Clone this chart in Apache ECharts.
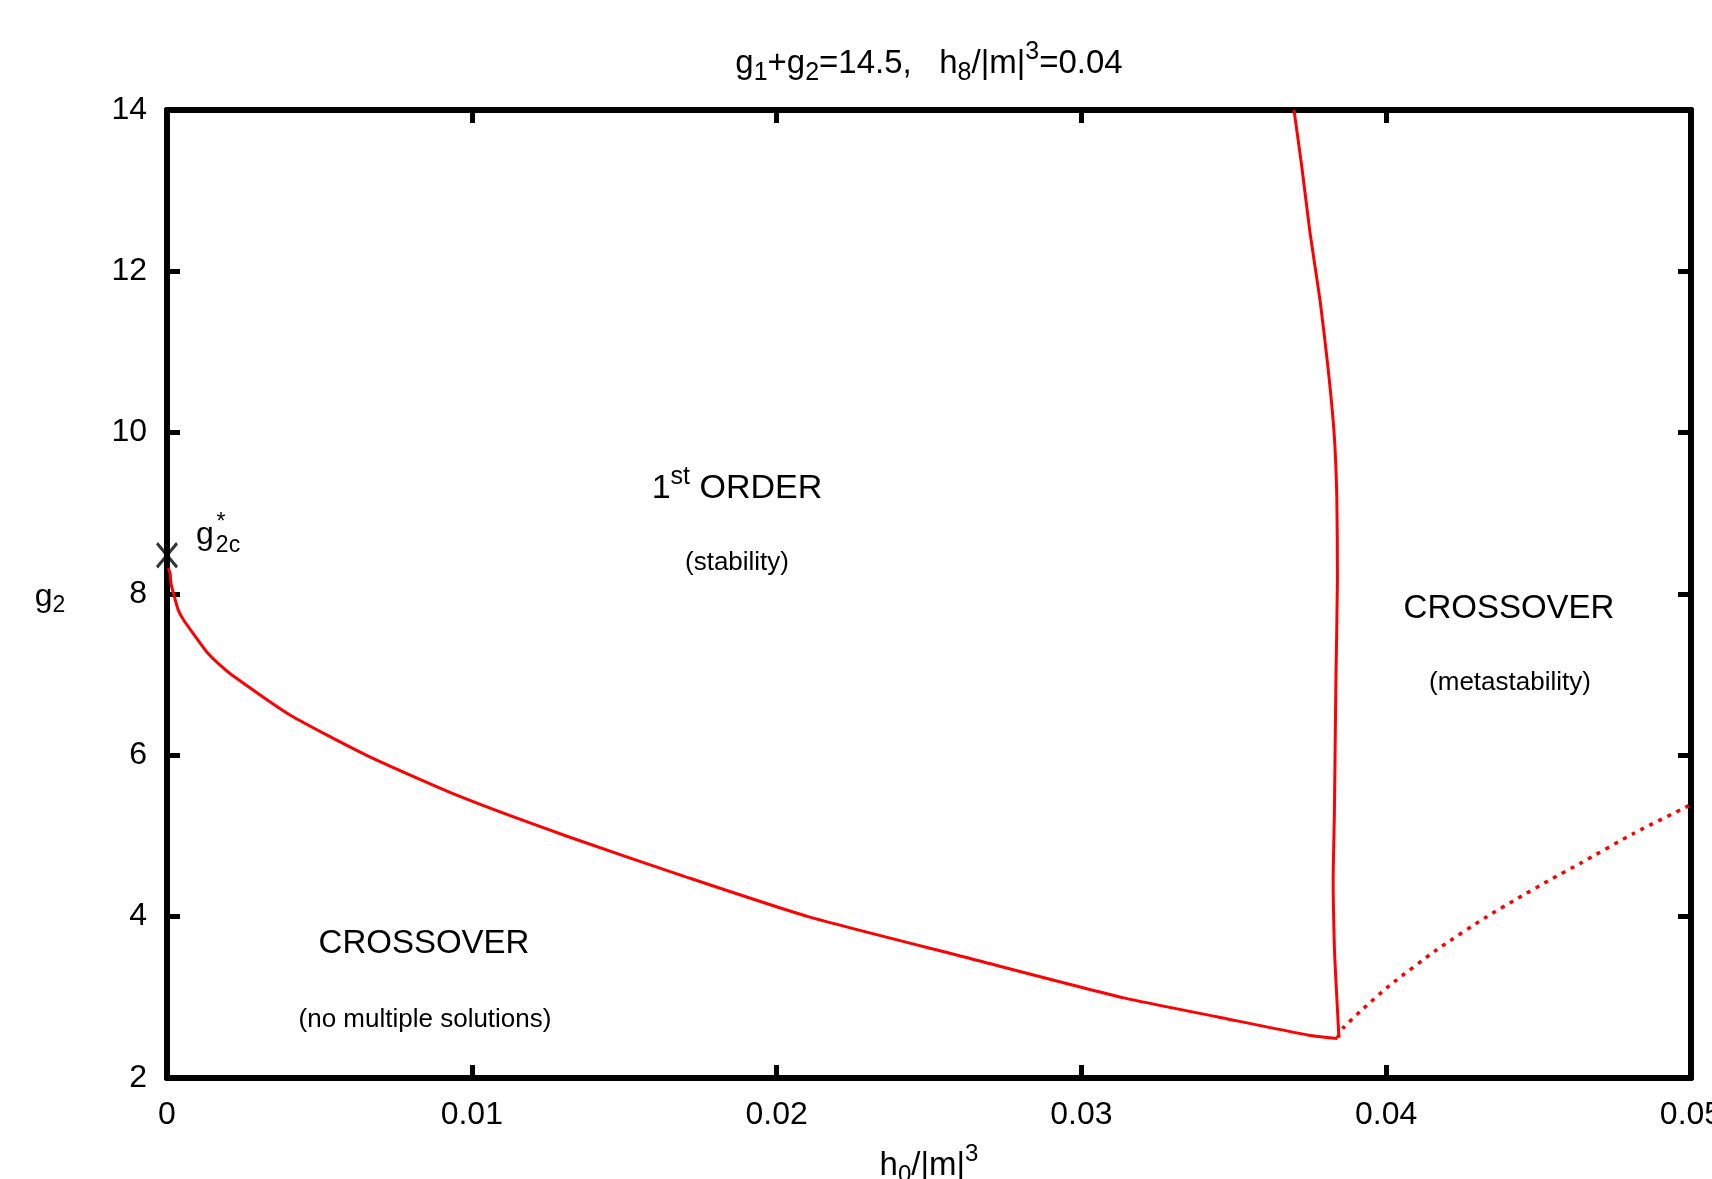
<!DOCTYPE html>
<html>
<head>
<meta charset="utf-8">
<title>g2 vs h0/|m|^3</title>
<script src="https://cdn.jsdelivr.net/npm/echarts@6/dist/echarts.min.js"></script>
<style>
  html, body { margin: 0; padding: 0; background: #fff; }
  #chart { width: 1712px; height: 1179px; }
</style>
</head>
<body>
<div id="chart"></div>
<script>
// 坐标轴范围
var xMin = 0, xMax = 0.05, xStep = 0.01
var yMin = 2, yMax = 14, yStep = 2

// 下方的一阶相变边界
var lowX = [0.00004, 0.0001, 0.00013, 0.00021, 0.00037, 0.00054, 0.00086, 0.0013, 0.00168, 0.00212, 0.00404, 0.00655, 0.00961, 0.0131, 0.01697, 0.02104, 0.02616, 0.03143, 0.03444, 0.03746, 0.0384]
var lowY = [8.32, 8.26, 8.13, 8.01, 7.8, 7.68, 7.51, 7.285, 7.14, 7.0, 6.5, 6.0, 5.49, 5.0, 4.5, 4.0, 3.5, 2.99, 2.76, 2.53, 2.49]

// 右侧近似竖直的边界
var spinX = [0.036975, 0.03723, 0.0375, 0.03783, 0.03809, 0.03829, 0.03838, 0.0384, 0.03835, 0.0383, 0.03826, 0.0383, 0.03835, 0.03845]
var spinY = [14, 13.3, 12.48, 11.64, 10.81, 10.0, 9.2, 8.2, 6.93, 5.28, 4.45, 3.62, 3.21, 2.5]

// 虚线（亚稳）
var dotX = [0.0384, 0.03859, 0.03925, 0.04012, 0.04166, 0.0433, 0.04433, 0.04537, 0.04636, 0.04811, 0.05]
var dotY = [2.5, 2.62, 2.86, 3.15, 3.59, 4.0, 4.23, 4.455, 4.66, 5.03, 5.39]

// 临界点 g2c*
var critX = [0]
var critY = [8.48]

var FONT = '"Liberation Sans", Arial, Helvetica, sans-serif'

function zip(xs, ys) {
  return xs.map(function (x, i) { return [x, ys[i]] })
}

// 上下标用的 rich 样式
function richStyle(size, subSize) {
  return {
    n: { fontSize: size, fontFamily: FONT, color: '#000' },
    sb: { fontSize: subSize, fontFamily: FONT, color: '#000', padding: [Math.round(size * 0.55), 0, 0, 0] },
    sp: { fontSize: subSize, fontFamily: FONT, color: '#000', padding: [0, 0, Math.round(size * 0.7), 0] }
  }
}

function label(x, y, text, size, subSize) {
  return {
    type: 'text',
    x: x,
    y: y,
    style: {
      text: text,
      rich: richStyle(size, subSize || Math.round(size * 0.72)),
      align: 'center',
      verticalAlign: 'middle'
    }
  }
}

function plain(x, y, text, size) {
  return {
    type: 'text',
    x: x,
    y: y,
    style: {
      text: text,
      fontSize: size,
      fontFamily: FONT,
      fill: '#000',
      align: 'center',
      verticalAlign: 'middle'
    }
  }
}

function axisCommon(pos, showLabel, margin) {
  return {
    type: 'value',
    position: pos,
    axisLine: { show: true, onZero: false, lineStyle: { color: '#000', width: 6 } },
    axisTick: { show: true, inside: true, length: 13, lineStyle: { color: '#000', width: 5 } },
    axisLabel: { show: showLabel, color: '#000', fontSize: 32, fontFamily: FONT, margin: margin },
    splitLine: { show: false }
  }
}

function initChart() {
  var chart = echarts.init(document.getElementById('chart'))

  var xBottom = axisCommon('bottom', true, 21)
  var xTop = axisCommon('top', false, 8)
  var yLeft = axisCommon('left', true, 20)
  var yRight = axisCommon('right', false, 8)
  ;[xBottom, xTop].forEach(function (a) { a.min = xMin; a.max = xMax; a.interval = xStep })
  ;[yLeft, yRight].forEach(function (a) { a.min = yMin; a.max = yMax; a.interval = yStep })

  var option = {
    animation: false,
    backgroundColor: '#fff',
    grid: { left: 167, right: 21, top: 110, bottom: 101, outerBoundsMode: 'none' },
    xAxis: [xBottom, xTop],
    yAxis: [yLeft, yRight],
    graphic: [
      label(929, 64, '{n|g}{sb|1}{n|+g}{sb|2}{n|=14.5,   h}{sb|8}{n|/|m|}{sp|3}{n|=0.04}', 33, 25),
      label(929, 1166, '{n|h}{sb|0}{n|/|m|}{sp|3}', 33, 24),
      label(50, 597, '{n|g}{sb|2}', 32, 23),
      label(737, 489, '{n|1}{sp|st}{n| ORDER}', 34, 25),
      plain(737, 563, '(stability)', 26),
      plain(1509, 609, 'CROSSOVER', 33),
      plain(1510, 683, '(metastability)', 26),
      plain(424, 944, 'CROSSOVER', 33),
      plain(425, 1020, '(no multiple solutions)', 26),
      // g2c* 标记
      plain(205, 535, 'g', 32),
      plain(228, 546, '2c', 23),
      plain(221, 523, '*', 23)
    ],
    series: [
      {
        type: 'line',
        data: zip(lowX, lowY),
        showSymbol: false,
        smooth: 0.2,
        lineStyle: { color: '#ff0000', width: 3 },
        z: 3
      },
      {
        type: 'line',
        data: zip(spinX, spinY),
        showSymbol: false,
        smooth: 0.2,
        lineStyle: { color: '#ff0000', width: 3 },
        z: 3
      },
      {
        type: 'line',
        data: zip(dotX, dotY),
        showSymbol: false,
        smooth: 0.2,
        lineStyle: { color: '#ff0000', width: 3.5, type: [4, 6] },
        z: 3
      },
      {
        type: 'scatter',
        data: zip(critX, critY),
        symbol: 'path://M0,0L10,12M10,0L0,12',
        symbolSize: [20, 24],
        itemStyle: { color: 'none', borderColor: '#000', borderWidth: 3 },
        z: 4
      }
    ]
  }

  chart.setOption(option)
}

initChart()
</script>
</body>
</html>
